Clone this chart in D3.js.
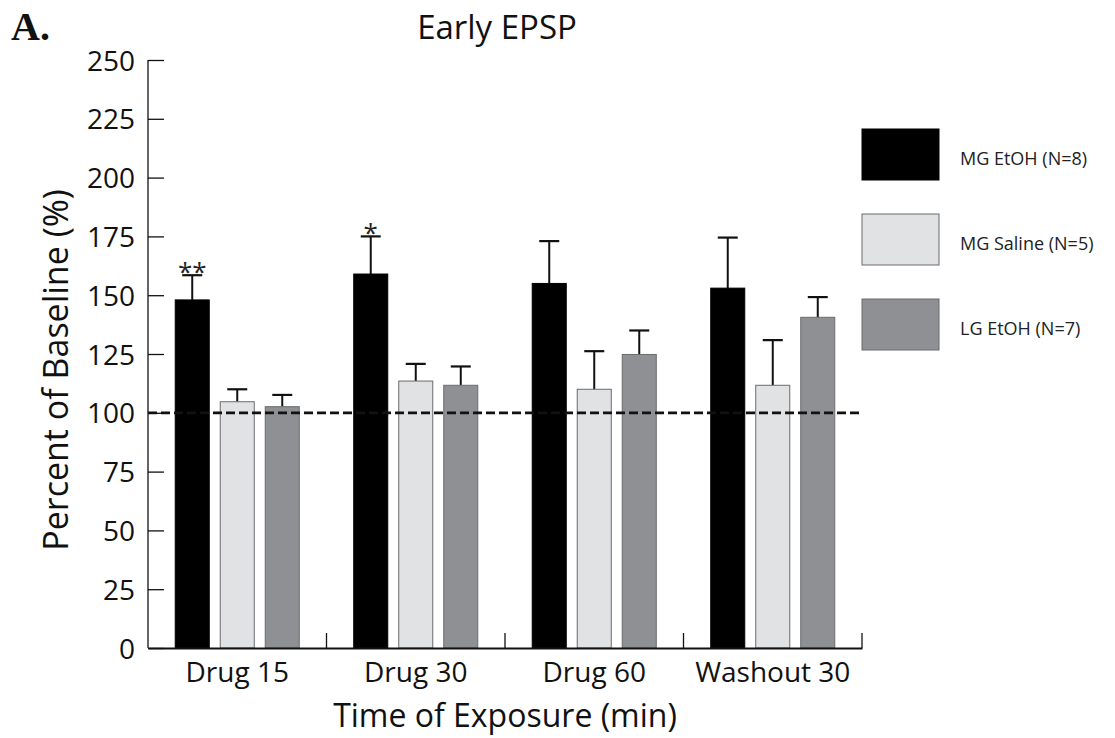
<!DOCTYPE html>
<html><head><meta charset="utf-8">
<script src="https://cdn.jsdelivr.net/npm/d3@7"></script>
<style>body{margin:0;background:#fff;} text{font-family:"Open Sans",sans-serif;}</style>
</head><body>
<svg id="chart" width="1115" height="738"></svg>
<script>
const categories = ["Drug 15", "Drug 30", "Drug 60", "Washout 30"];
const series = ["MG EtOH (N=8)", "MG Saline (N=5)", "LG EtOH (N=7)"];
const mgEtohMean = [148, 159, 155, 153];
const mgEtohErr  = [10.5, 16, 18, 21.5];
const mgSalineMean = [104.7, 113.5, 110, 111.7];
const mgSalineErr  = [5.3, 7.3, 16.2, 19.2];
const lgEtohMean = [102.6, 111.7, 124.8, 140.6];
const lgEtohErr  = [5, 8, 10.2, 8.6];
const yTicks = [0, 25, 50, 75, 100, 125, 150, 175, 200, 225, 250];
const significance = ["**", "*", "", ""];
const colors = ["#000000", "#e1e2e4", "#8f9093"];

const means = [mgEtohMean, mgSalineMean, lgEtohMean];
const errs = [mgEtohErr, mgSalineErr, lgEtohErr];

const svg = d3.select("#chart");
const m = {left: 148, right: 1115 - 862, top: 60, bottom: 738 - 648};
const W = 1115 - m.left - m.right, H = 738 - m.top - m.bottom;
const g = svg.append("g").attr("transform", `translate(${m.left},${m.top})`);

const x0 = d3.scaleBand().domain(categories).range([0, W]);
const x1 = d3.scaleBand().domain(series).range([0, x0.bandwidth()]).paddingInner(0.244).paddingOuter(0.605);
const y = d3.scaleLinear().domain([0, 250]).range([H, 0]);

const data = [];
categories.forEach((c, i) => series.forEach((s, j) => data.push({c, s, j, v: means[j][i], e: errs[j][i]})));

// error bars (upward only)
const capW = 20;
g.selectAll(".err").data(data).enter().append("g").each(function(d){
  const cx = x0(d.c) + x1(d.s) + x1.bandwidth()/2;
  const sel = d3.select(this);
  sel.append("line").attr("x1", cx).attr("x2", cx).attr("y1", y(d.v)).attr("y2", y(d.v + d.e))
    .attr("stroke", "#111").attr("stroke-width", 2);
  sel.append("line").attr("x1", cx - capW/2).attr("x2", cx + capW/2).attr("y1", y(d.v + d.e)).attr("y2", y(d.v + d.e))
    .attr("stroke", "#111").attr("stroke-width", 2.2);
});

g.selectAll(".bar").data(data).enter().append("rect")
  .attr("x", d => x0(d.c) + x1(d.s))
  .attr("y", d => y(d.v))
  .attr("width", x1.bandwidth())
  .attr("height", d => H - y(d.v))
  .attr("fill", d => colors[d.j])
  .attr("stroke", d => d.j === 0 ? "#000" : "#6a6b6e")
  .attr("stroke-width", 1);

// dashed baseline
g.append("line").attr("x1", 0).attr("x2", W).attr("y1", y(100)).attr("y2", y(100))
  .attr("stroke", "#111").attr("stroke-width", 2.8).attr("stroke-dasharray", "9,4");

// significance
categories.forEach((c, i) => {
  if (!significance[i]) return;
  const cx = x0(c) + x1(series[0]) + x1.bandwidth()/2;
  g.append("text").attr("x", cx).attr("y", y(mgEtohMean[i] + mgEtohErr[i]) + 6)
    .attr("text-anchor", "middle").attr("font-size", 26).attr("fill", "#222")
    .text(significance[i]);
});

// y axis
const yAxis = d3.axisLeft(y).tickValues(yTicks).tickSize(-16).tickPadding(13);
const ya = g.append("g").call(yAxis);
ya.select(".domain").attr("d", `M0,0H0V${H}`).attr("stroke", "#111").attr("stroke-width", 1.3);
ya.selectAll(".tick line").attr("stroke", "#111").attr("stroke-width", 1.3);
ya.selectAll(".tick text").attr("font-size", 28).attr("fill", "#111").attr("font-family", "Open Sans").attr("dy", "0.36em");

// x axis
const xa = g.append("g").attr("transform", `translate(0,${H})`)
  .call(d3.axisBottom(x0).tickSize(0).tickPadding(14));
xa.select(".domain").attr("stroke", "#111").attr("stroke-width", 1.8);
xa.selectAll(".tick text").attr("font-size", 28).attr("fill", "#111").attr("font-family", "Open Sans");
// upward ticks at group boundaries
g.append("g").selectAll("line").data(categories).enter().append("line")
  .attr("x1", d => x0(d) + x0.bandwidth()).attr("x2", d => x0(d) + x0.bandwidth())
  .attr("y1", H).attr("y2", H - 15).attr("stroke", "#111").attr("stroke-width", 1.3);

// titles
svg.append("text").attr("x", 497).attr("y", 39).attr("text-anchor", "middle").attr("font-size", 33).attr("fill", "#111").text("Early EPSP");
svg.append("text").attr("x", 11).attr("y", 40).attr("font-size", 40).attr("font-weight", "bold")
  .style("font-family", "'Liberation Serif', serif").attr("fill", "#111").text("A.");
svg.append("text").attr("x", m.left + W/2).attr("y", 727).attr("text-anchor", "middle").attr("font-size", 32).attr("fill", "#111").text("Time of Exposure (min)");
svg.append("text").attr("transform", `translate(68,370) rotate(-90)`).attr("text-anchor", "middle")
  .attr("font-size", 34).attr("fill", "#111").text("Percent of Baseline (%)");

// legend
const lg = svg.append("g").attr("transform", "translate(862,129)");
series.forEach((s, j) => {
  const row = lg.append("g").attr("transform", `translate(0,${j * 85})`);
  row.append("rect").attr("width", 77).attr("height", 51).attr("fill", colors[j])
    .attr("stroke", j === 0 ? "#000" : "#6a6b6e").attr("stroke-width", 1);
  row.append("text").attr("x", 98).attr("y", 36).attr("font-size", 18).attr("fill", "#222").text(s);
});
</script>
</body></html>
